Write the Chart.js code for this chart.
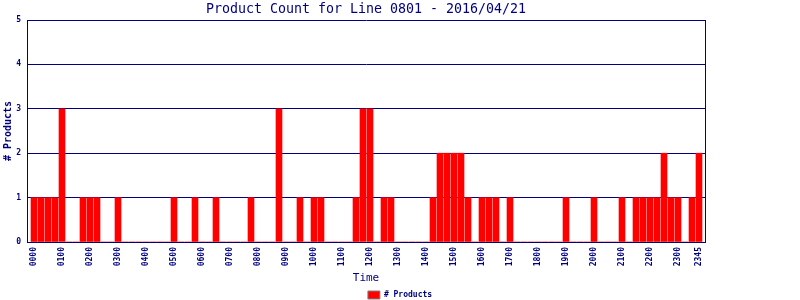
<!DOCTYPE html>
<html>
<head>
<meta charset="utf-8">
<script src="https://cdn.jsdelivr.net/npm/chart.js@4/dist/chart.umd.min.js"></script>
<style>
  html, body { margin: 0; padding: 0; background: #fff; }
  #wrap { width: 800px; height: 300px; }
</style>
</head>
<body>
<div id="wrap"><canvas id="product-chart" width="800" height="300"></canvas></div>
<script>
// 15 minute slots, 0000 .. 2345
let times = [];
for (let h = 0; h < 24; h++) {
    for (let m = 0; m < 60; m += 15) {
        times.push(String(h).padStart(2, '0') + String(m).padStart(2, '0'));
    }
}

let products = [
    1, 1, 1, 1, 3, 0, 0, 1, 1, 1, 0, 0, 1, 0, 0, 0,   // 0000 - 0345
    0, 0, 0, 0, 1, 0, 0, 1, 0, 0, 1, 0, 0, 0, 0, 1,   // 0400 - 0745
    0, 0, 0, 3, 0, 0, 1, 0, 1, 1, 0, 0, 0, 0, 1, 3,   // 0800 - 1145
    3, 0, 1, 1, 0, 0, 0, 0, 0, 1, 2, 2, 2, 2, 1, 0,   // 1200 - 1545
    1, 1, 1, 0, 1, 0, 0, 0, 0, 0, 0, 0, 1, 0, 0, 0,   // 1600 - 1945
    1, 0, 0, 0, 1, 0, 1, 1, 1, 1, 2, 1, 1, 0, 1, 2    // 2000 - 2345
];

// slots that get a label on the time axis
let tickLabels = ['0000', '0100', '0200', '0300', '0400', '0500', '0600', '0700',
    '0800', '0900', '1000', '1100', '1200', '1300', '1400', '1500', '1600',
    '1700', '1800', '1900', '2000', '2100', '2200', '2300', '2345'];

let yTicks = [0, 1, 2, 3, 4, 5];

const navy = '#000080';
const mono = '"DejaVu Sans Mono", monospace';

// title is centred over the plot frame, not the canvas
const plotTitle = {
    id: 'plotTitle',
    afterDraw(chart) {
        const c = chart.ctx, a = chart.chartArea;
        c.save();
        c.font = '13.3px ' + mono;
        c.fillStyle = navy;
        c.textAlign = 'center';
        c.textBaseline = 'middle';
        c.fillText('Product Count for Line 0801 - 2016/04/21', (a.left + a.right) / 2, 9.5);
        c.restore();
    }
};

let ctx = document.getElementById('product-chart');

let chart = new Chart(ctx, {
    type: 'bar',
    data: {
        datasets: [{
            label: '# Products',
            data: products.map((v, i) => ({ x: i, y: v })),
            backgroundColor: '#ff0000',
            borderWidth: 0,
            barThickness: 6
        }]
    },
    options: {
        responsive: false,
        animation: false,
        layout: { padding: { top: 20, left: 0, right: 0, bottom: 0 } },
        plugins: {
            tooltip: { enabled: false },
            legend: {
                position: 'bottom',
                maxHeight: 12,
                labels: {
                    boxWidth: 12,
                    boxHeight: 8,
                    padding: 3,
                    color: navy,
                    font: { family: mono, size: 8, weight: 'bold' },
                    generateLabels(ch) {
                        return Chart.defaults.plugins.legend.labels.generateLabels(ch).map(l => {
                            l.strokeStyle = '#808080';
                            l.lineWidth = 1;
                            return l;
                        });
                    }
                }
            }
        },
        scales: {
            x: {
                type: 'linear',
                offset: false,
                min: -1,
                max: 95.857,
                grid: { display: false, drawTicks: false },
                border: { color: navy, width: 1 },
                afterBuildTicks(s) {
                    s.ticks = tickLabels.map(t => ({ value: times.indexOf(t) }));
                },
                afterFit(s) { s.height = 46; },
                ticks: {
                    autoSkip: false,
                    minRotation: 90,
                    maxRotation: 90,
                    padding: 5,
                    color: navy,
                    font: { family: mono, size: 8, weight: 'bold' },
                    callback: v => times[v]
                },
                title: {
                    display: true,
                    text: 'Time',
                    color: navy,
                    padding: { top: 0, bottom: 3.5 },
                    font: { family: mono, size: 11 }
                }
            },
            y: {
                min: 0,
                max: 5,
                afterBuildTicks(s) {
                    s.ticks = yTicks.map(v => ({ value: v }));
                },
                afterFit(s) { s.width = 27; },
                grid: { color: navy, lineWidth: 1, drawTicks: false },
                border: { color: navy, width: 1 },
                ticks: {
                    padding: 6,
                    color: navy,
                    font: { family: mono, size: 8, weight: 'bold' }
                },
                title: {
                    display: true,
                    text: '# Products',
                    color: navy,
                    padding: { top: 2, bottom: 0 },
                    font: { family: mono, size: 10, weight: 'bold' }
                }
            },
            y2: {
                position: 'right',
                display: true,
                min: 0,
                max: 5,
                afterFit(s) { s.width = 95; },
                grid: { display: false, drawTicks: false },
                border: { color: navy, width: 1 },
                ticks: { display: false }
            }
        }
    },
    plugins: [plotTitle]
});
</script>
</body>
</html>
